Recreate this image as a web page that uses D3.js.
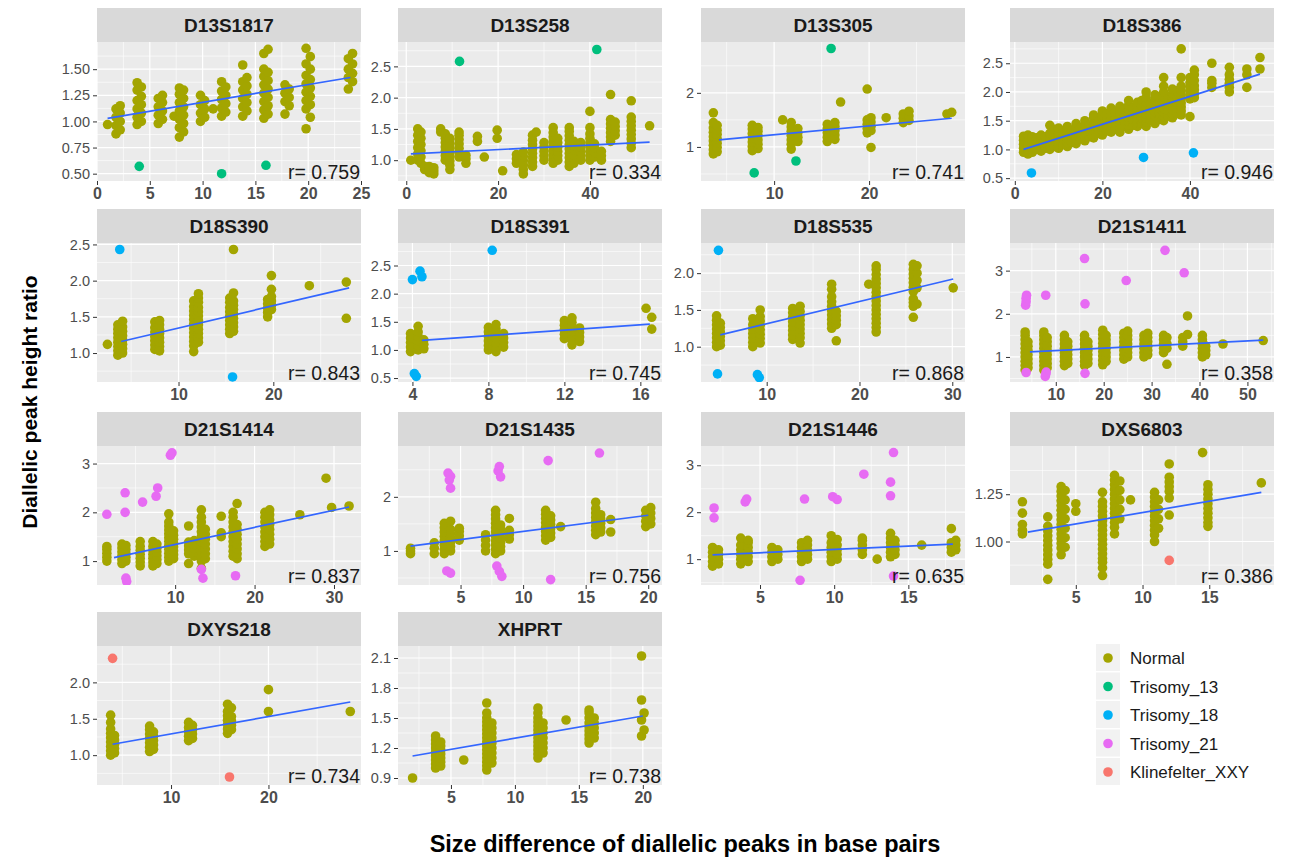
<!DOCTYPE html>
<html>
<head>
<meta charset="utf-8">
<script src="https://cdn.jsdelivr.net/npm/d3@7"></script>
<style>
  body { margin: 0; background: #fff; }
  text { font-family: "Liberation Sans", Arial, sans-serif; }
</style>
</head>
<body>
<div id="chart-area"></div>
<script>
// facet names, in facet_wrap order
const markers = ["D13S1817", "D13S258", "D13S305", "D18S386",
                 "D18S390", "D18S391", "D18S535", "D21S1411",
                 "D21S1414", "D21S1435", "D21S1446", "DXS6803",
                 "DXYS218", "XHPRT"];

const rValues = ["0.759", "0.334", "0.741", "0.946", "0.843", "0.745", "0.868",
                 "0.358", "0.837", "0.756", "0.635", "0.386", "0.734", "0.738"];

// axis limits per facet (free scales)
const xLimits = [[0, 25], [-1.8, 55.7], [2.3, 30.1], [-1.1, 59.2],
                 [1.4, 29.25], [3.24, 17.14], [2.92, 31.37], [0.44, 55.55],
                 [0.16, 33.4], [0, 21.1], [1.02, 18.82], [0.07, 19.85],
                 [2.4, 29.5], [0.86, 21.5]];
const yLimits = [[0.43, 1.76], [0.667, 2.89], [0.37, 2.94], [0.45, 2.87],
                 [0.6, 2.52], [0.43, 2.9], [0.52, 2.41], [0.42, 3.64],
                 [0.51, 3.36], [0.37, 2.94], [0.45, 3.41], [0.77, 1.505],
                 [0.59, 2.5], [0.83, 2.22]];

// tick labels
const xTicks = [["0", "5", "10", "15", "20", "25"], ["0", "20", "40"], ["10", "20"],
                ["0", "20", "40"], ["10", "20"], ["4", "8", "12", "16"], ["10", "20", "30"],
                ["10", "20", "30", "40", "50"], ["10", "20", "30"], ["5", "10", "15", "20"],
                ["5", "10", "15"], ["5", "10", "15"], ["10", "20"], ["5", "10", "15", "20"]];
const yTicks = [["0.50", "0.75", "1.00", "1.25", "1.50"], ["1.0", "1.5", "2.0", "2.5"], ["1", "2"],
                ["0.5", "1.0", "1.5", "2.0", "2.5"], ["1.0", "1.5", "2.0", "2.5"],
                ["0.5", "1.0", "1.5", "2.0", "2.5"], ["1.0", "1.5", "2.0"], ["1", "2", "3"],
                ["1", "2", "3"], ["1", "2"], ["1", "2", "3"], ["1.00", "1.25"],
                ["1.0", "1.5", "2.0"], ["0.9", "1.2", "1.5", "1.8", "2.1"]];

// lm fit of the Normal samples: [x1, y1, x2, y2]
const fitLines = [[1, 1.03, 24, 1.42], [1, 1.1, 53, 1.29], [4.2, 1.13, 28.7, 1.53], [2, 1.0, 56, 2.31],
                  [3.95, 1.16, 28, 1.9], [4.5, 1.17, 16.5, 1.46], [5, 1.16, 30.1, 1.92], [4.6, 1.12, 53.3, 1.39],
                  [2.3, 1.07, 31.9, 2.11], [1, 1.09, 20, 1.66], [1.8, 1.09, 18, 1.32], [1.4, 1.05, 18.9, 1.26],
                  [4, 1.15, 28.4, 1.73], [2, 1.12, 20, 1.52]];

// Normal samples: each entry is [x, y, y, y ...]
const normalD13S1817 = [
  [1, 0.97], [1.8, 0.88, 0.96, 1.04, 1.12], [2.2, 0.92, 1.0, 1.08, 1.15],
  [3.8, 0.97, 1.04, 1.12, 1.2, 1.3, 1.37], [4.2, 1.0, 1.08, 1.16, 1.24, 1.33],
  [5.8, 0.98, 1.06, 1.14, 1.22], [6.2, 1.02, 1.1, 1.18, 1.25], [7.3, 1.05],
  [7.8, 0.85, 0.94, 1.02, 1.1, 1.18, 1.26, 1.32], [8.2, 0.9, 0.98, 1.06, 1.14, 1.22, 1.3],
  [9.8, 1.0, 1.08, 1.16, 1.25], [10.2, 1.04, 1.12, 1.2], [11, 1.12],
  [11.8, 1.05, 1.13, 1.21, 1.29, 1.38], [12.2, 1.09, 1.17, 1.25, 1.33],
  [13.8, 1.05, 1.14, 1.22, 1.3, 1.38, 1.54], [14.2, 1.1, 1.18, 1.26, 1.34, 1.42],
  [15.8, 1.03, 1.11, 1.19, 1.27, 1.35, 1.43, 1.5, 1.65], [16.2, 1.07, 1.15, 1.23, 1.31, 1.39, 1.47, 1.69],
  [17.8, 1.07, 1.19, 1.27, 1.35], [18.2, 1.15, 1.23, 1.31],
  [19.8, 0.93, 1.12, 1.2, 1.28, 1.36, 1.44, 1.55, 1.7], [20.2, 1.04, 1.16, 1.24, 1.32, 1.4, 1.5, 1.62],
  [23.8, 1.31, 1.42, 1.5, 1.6], [24.2, 1.38, 1.46, 1.55, 1.65]
];
const normalD13S258 = [
  [1, 1.0], [2.5, 1.0, 1.1, 1.2, 1.3, 1.4, 1.5], [3.2, 0.95, 1.05, 1.15, 1.25, 1.35, 1.45],
  [4, 0.85, 0.9], [5, 0.8, 0.85, 0.9], [6, 0.78, 0.83, 0.88], [7.5, 1.45, 1.5],
  [8.5, 1.0, 1.07, 1.14, 1.21, 1.28, 1.35, 1.42], [9.5, 0.85, 0.92, 0.99, 1.06, 1.13, 1.2, 1.27, 1.35],
  [11.5, 1.05, 1.12, 1.19, 1.26, 1.33, 1.4, 1.45], [13, 0.95, 1.02, 1.08], [15.5, 1.3, 1.38],
  [17, 1.05], [19.8, 1.35, 1.48], [21, 0.83], [24, 0.95, 1.02, 1.09],
  [25.5, 0.78, 0.85, 0.92, 0.99, 1.06, 1.13], [27.5, 0.9, 0.97, 1.04, 1.11, 1.18, 1.25, 1.32, 1.4],
  [28.3, 1.45], [30, 1.0, 1.07, 1.14, 1.21, 1.28],
  [32, 0.95, 1.02, 1.09, 1.16, 1.23, 1.3, 1.37, 1.44, 1.52], [33, 1.0, 1.07, 1.14, 1.21, 1.28, 1.35],
  [35.5, 0.9, 0.97, 1.04, 1.11, 1.18, 1.25, 1.32, 1.39, 1.46, 1.52], [36.5, 0.95, 1.02, 1.09, 1.16, 1.23, 1.3],
  [38, 1.0, 1.07, 1.14, 1.21, 1.28], [40, 1.0, 1.07, 1.14, 1.21, 1.28, 1.35, 1.42, 1.52, 1.78],
  [41, 1.05, 1.12, 1.19, 1.26], [42.5, 1.0, 1.07, 1.14],
  [44.5, 1.3, 1.37, 1.44, 1.51, 1.58, 1.65, 2.05], [45.5, 1.4, 1.47, 1.54, 1.61],
  [49, 1.2, 1.27, 1.34, 1.41, 1.48, 1.55, 1.62, 1.69, 1.95], [53, 1.55]
];
const normalD13S305 = [
  [3.6, 0.87, 0.95, 1.03, 1.11, 1.19, 1.27, 1.35, 1.45, 1.63], [4.0, 0.91, 0.99, 1.07, 1.15, 1.23, 1.31, 1.4],
  [7.7, 0.93, 1.01, 1.09, 1.17, 1.25, 1.33, 1.4], [8.3, 0.97, 1.05, 1.13, 1.21, 1.29, 1.36],
  [10.9, 1.5], [11.8, 0.96, 1.05, 1.13, 1.21, 1.29, 1.37, 1.45], [12.5, 1.1, 1.18, 1.26, 1.34],
  [15.6, 1.1, 1.18, 1.26, 1.34, 1.42], [16.4, 1.14, 1.22, 1.3, 1.38, 1.45], [17, 1.83],
  [19.8, 1.26, 1.34, 1.42, 1.5, 2.07], [20.2, 0.99, 1.3, 1.38, 1.46, 1.54], [21.8, 1.54],
  [23.6, 1.45, 1.53, 1.61], [24.2, 1.49, 1.57, 1.66], [28.2, 1.61], [28.7, 1.64]
];
const normalD18S386 = [
  [2, 0.95, 1.02, 1.09, 1.16, 1.23], [3, 0.92, 1.0, 1.08, 1.15, 1.25], [4, 0.95, 1.02, 1.09, 1.16, 1.22],
  [5, 1.0, 1.1, 1.2], [6, 0.97, 1.04, 1.11, 1.18, 1.25], [7, 1.02, 1.12, 1.22],
  [8, 1.0, 1.07, 1.14, 1.21, 1.28, 1.42], [9, 1.05, 1.15, 1.25, 1.35], [10, 1.02, 1.09, 1.16, 1.23, 1.3, 1.37],
  [11, 1.08, 1.18, 1.28], [12, 1.05, 1.12, 1.19, 1.26, 1.33, 1.4], [13, 1.12, 1.22, 1.32],
  [14, 1.1, 1.17, 1.24, 1.31, 1.38, 1.45], [15, 1.18, 1.28, 1.38], [16, 1.15, 1.22, 1.29, 1.36, 1.43, 1.5],
  [17, 1.22, 1.32, 1.42], [18, 1.2, 1.27, 1.34, 1.41, 1.48, 1.55, 1.6], [19, 1.28, 1.38, 1.48],
  [20, 1.25, 1.32, 1.39, 1.46, 1.53, 1.6, 1.67], [21, 1.32, 1.42, 1.52, 1.62],
  [22, 1.3, 1.37, 1.44, 1.51, 1.58, 1.65, 1.72], [23, 1.35, 1.45, 1.55, 1.65],
  [24, 1.3, 1.37, 1.44, 1.51, 1.58, 1.65, 1.75], [25, 1.4, 1.5, 1.6, 1.7],
  [26, 1.35, 1.42, 1.49, 1.56, 1.63, 1.7, 1.77, 1.85], [27, 1.42, 1.52, 1.62, 1.72],
  [28, 1.4, 1.47, 1.54, 1.61, 1.68, 1.75, 1.82], [29, 1.45, 1.55, 1.65, 1.75, 1.85],
  [30, 1.4, 1.47, 1.54, 1.61, 1.68, 1.75, 1.82, 1.9, 2.0], [31, 1.5, 1.6, 1.7, 1.8],
  [32, 1.45, 1.52, 1.59, 1.66, 1.73, 1.8, 1.87, 1.95], [33, 1.52, 1.62, 1.72, 1.82, 1.92],
  [34, 1.5, 1.57, 1.64, 1.71, 1.78, 1.85, 1.92, 2.0, 2.1, 2.25], [35, 1.58, 1.68, 1.78, 1.88],
  [36, 1.55, 1.62, 1.69, 1.76, 1.83, 1.9, 1.97, 2.05], [37, 1.62, 1.72, 1.82, 1.92, 2.02],
  [38, 1.6, 1.67, 1.74, 1.81, 1.88, 1.95, 2.02, 2.1, 2.25, 2.75],
  [40, 1.57, 1.88, 1.95, 2.02, 2.09, 2.16, 2.25], [41, 1.9, 1.97, 2.04, 2.11, 2.2, 2.3, 2.38],
  [45, 2.08, 2.15, 2.2, 2.5], [49, 2.0, 2.08, 2.15, 2.22, 2.3, 2.43], [53, 2.08, 2.3, 2.4], [56, 2.4, 2.6]
];
const normalD18S390 = [
  [2.5, 1.12], [3.6, 0.97, 1.03, 1.09, 1.15, 1.21, 1.27, 1.33, 1.39], [4.1, 1.0, 1.06, 1.12, 1.18, 1.24, 1.3, 1.36, 1.44],
  [7.5, 1.05, 1.11, 1.17, 1.23, 1.29, 1.35, 1.43], [8.0, 1.03, 1.09, 1.15, 1.21, 1.27, 1.33, 1.39, 1.45],
  [11.6, 1.02, 1.1, 1.16, 1.22, 1.28, 1.34, 1.4, 1.46, 1.52, 1.58, 1.64, 1.72],
  [12.1, 1.15, 1.21, 1.27, 1.33, 1.39, 1.45, 1.51, 1.57, 1.63, 1.7, 1.76, 1.82],
  [15.4, 1.27, 1.33, 1.39, 1.45, 1.51, 1.57, 1.63, 1.7, 1.76],
  [15.8, 1.3, 1.36, 1.42, 1.48, 1.54, 1.6, 1.66, 1.72, 1.83, 2.43],
  [19.4, 1.5, 1.56, 1.62, 1.68, 1.74], [19.8, 1.6, 1.66, 1.72, 1.78, 1.88, 2.07],
  [23.8, 1.93], [27.7, 1.98, 1.48]
];
const normalD18S391 = [
  [3.9, 0.97, 1.05, 1.13, 1.21, 1.29], [4.3, 1.0, 1.08, 1.16, 1.24, 1.32, 1.42], [4.6, 1.02, 1.1, 1.18],
  [8.0, 1.0, 1.08, 1.16, 1.24, 1.32, 1.4], [8.4, 0.97, 1.05, 1.13, 1.21, 1.29, 1.37, 1.45], [8.8, 1.05, 1.13, 1.21, 1.29],
  [12.0, 1.2, 1.28, 1.36, 1.44, 1.52], [12.4, 1.09, 1.17, 1.25, 1.33, 1.41, 1.49, 1.57], [12.8, 1.15, 1.23, 1.31, 1.39],
  [16.3, 1.74], [16.6, 1.58, 1.37]
];
const normalD18S535 = [
  [4.6, 1.0, 1.06, 1.12, 1.18, 1.24, 1.3, 1.36, 1.42], [5.0, 1.02, 1.08, 1.14, 1.2, 1.26, 1.32],
  [8.5, 1.0, 1.06, 1.12, 1.18, 1.24, 1.3, 1.38], [9.3, 1.05, 1.11, 1.17, 1.23, 1.29, 1.35, 1.41, 1.5],
  [12.8, 1.1, 1.16, 1.22, 1.28, 1.34, 1.4, 1.46, 1.52], [13.6, 1.05, 1.12, 1.18, 1.24, 1.3, 1.36, 1.42, 1.48, 1.55],
  [17.0, 1.25, 1.31, 1.37, 1.43, 1.49, 1.55, 1.61, 1.68, 1.78, 1.85], [17.5, 1.08, 1.3, 1.36, 1.42, 1.48],
  [21.0, 1.85], [21.8, 1.2, 1.26, 1.32, 1.38, 1.44, 1.5, 1.56, 1.62, 1.68, 1.74, 1.8, 1.86, 1.92, 1.98, 2.05, 2.1],
  [25.8, 1.4, 1.55, 1.6, 1.65, 1.75, 1.81, 1.87, 1.93, 1.99, 2.05, 2.12], [26.2, 1.58, 1.8, 1.9, 2.0, 2.1],
  [30.1, 1.8]
];
const normalD21S1411 = [
  [3.6, 0.7, 0.8, 0.9, 1.0, 1.1, 1.2, 1.3, 1.4, 1.5, 1.58], [4.2, 0.75, 0.85, 0.95, 1.05, 1.15, 1.25, 1.35],
  [7.5, 0.7, 0.8, 0.9, 1.0, 1.1, 1.2, 1.3, 1.4, 1.5, 1.58], [8.2, 0.75, 0.85, 0.95, 1.05, 1.15, 1.25, 1.35, 1.45],
  [11.8, 0.8, 0.9, 1.0, 1.1, 1.2, 1.3, 1.4, 1.5], [12.5, 0.85, 0.95, 1.05, 1.15, 1.25, 1.35],
  [16.0, 0.8, 0.9, 1.0, 1.1, 1.2, 1.3, 1.4, 1.5], [16.7, 0.85, 0.95, 1.05, 1.15, 1.25, 1.35],
  [19.8, 0.82, 0.92, 1.02, 1.12, 1.22, 1.32, 1.42, 1.52, 1.62], [20.5, 0.9, 1.0, 1.1, 1.2, 1.3, 1.4, 1.5],
  [24.2, 0.95, 1.05, 1.15, 1.25, 1.35, 1.45, 1.55], [25.0, 1.0, 1.1, 1.2, 1.3, 1.4, 1.5, 1.6],
  [28.4, 1.0, 1.1, 1.2, 1.3, 1.4, 1.5], [29.2, 1.05, 1.15, 1.25, 1.35, 1.45, 1.55],
  [32.5, 1.1, 1.2, 1.3, 1.4, 1.5], [33.2, 0.83, 1.2, 1.3, 1.45], [36.5, 1.25, 1.35, 1.45], [37.5, 1.95, 1.52],
  [40.6, 1.0, 1.1, 1.2, 1.3, 1.4, 1.5], [41.3, 1.05, 1.15, 1.25], [44.9, 1.3], [53.3, 1.38]
];
const normalD21S1414 = [
  [1.4, 1.0, 1.08, 1.16, 1.24, 1.3], [3.3, 0.95, 1.03, 1.11, 1.19, 1.27, 1.35], [3.8, 1.0, 1.08, 1.16, 1.24, 1.32],
  [5.6, 0.9, 0.98, 1.06, 1.14, 1.22, 1.3, 1.4], [7.2, 0.9, 0.98, 1.06, 1.14, 1.22, 1.3, 1.4],
  [7.7, 0.95, 1.03, 1.11, 1.19, 1.27, 1.35],
  [9.2, 1.0, 1.08, 1.16, 1.24, 1.32, 1.4, 1.48, 1.56, 1.64, 1.72, 1.8, 1.97], [9.8, 1.05, 1.13, 1.21, 1.29, 1.37, 1.45, 1.53, 1.62],
  [11.7, 0.95, 1.15, 1.23, 1.31, 1.39, 1.72], [12.4, 1.1, 1.18, 1.26, 1.34, 1.42],
  [13.3, 0.85, 1.0, 1.1, 1.2, 1.3, 1.4, 1.5, 1.6, 1.7, 1.8, 1.9, 2.05], [13.8, 1.05, 1.15, 1.25, 1.35, 1.45, 1.55, 1.65],
  [15.8, 1.5, 1.58, 1.92], [17.3, 1.1, 1.2, 1.3, 1.4, 1.5, 1.6, 1.7, 1.8, 1.9, 2.0],
  [17.8, 1.05, 1.15, 1.25, 1.35, 1.45, 1.55, 1.65, 1.75, 2.18],
  [21.3, 1.3, 1.4, 1.5, 1.6, 1.7, 1.8, 1.9, 2.0], [21.9, 1.35, 1.45, 1.55, 1.65, 1.75, 1.85, 1.95, 2.05],
  [25.7, 1.95], [29.0, 2.7], [29.7, 2.1], [31.9, 2.13]
];
const normalD21S1435 = [
  [1.0, 0.95, 1.0, 1.05], [2.9, 0.95, 1.05, 1.15], [3.7, 0.95, 1.03, 1.11, 1.19, 1.27, 1.35, 1.43, 1.51],
  [4.2, 1.0, 1.08, 1.16, 1.24, 1.32, 1.4, 1.55], [4.9, 1.2, 1.28, 1.36, 1.42], [7.0, 1.0, 1.1, 1.2, 1.3],
  [7.8, 0.95, 1.03, 1.11, 1.19, 1.27, 1.35, 1.43, 1.51, 1.59, 1.67, 1.75], [8.2, 1.0, 1.08, 1.16, 1.24, 1.32, 1.4, 1.48],
  [8.9, 1.22, 1.3, 1.38, 1.6], [11.8, 1.2, 1.28, 1.36, 1.44, 1.52, 1.6, 1.68, 1.75], [12.2, 1.25, 1.33, 1.41, 1.49, 1.57, 1.65],
  [13.0, 1.45], [15.8, 1.3, 1.38, 1.46, 1.54, 1.62, 1.7, 1.78, 1.9], [16.2, 1.35, 1.43, 1.51, 1.59, 1.67],
  [17.0, 1.35, 1.58], [19.8, 1.45, 1.55, 1.65, 1.75], [20.2, 1.5, 1.6, 1.7, 1.8]
];
const normalD21S1446 = [
  [1.8, 0.85, 0.95, 1.05, 1.15, 1.25], [2.2, 0.9, 1.0, 1.1, 1.2], [3.7, 0.9, 1.0, 1.1, 1.2, 1.3, 1.45],
  [4.2, 0.95, 1.05, 1.15, 1.25, 1.35, 1.4], [5.8, 0.95, 1.05, 1.15, 1.25], [6.2, 1.0, 1.1, 1.2],
  [7.8, 0.95, 1.05, 1.15, 1.25, 1.35], [8.2, 1.0, 1.1, 1.2, 1.3, 1.4], [9.8, 0.95, 1.05, 1.15, 1.25, 1.35, 1.5],
  [10.2, 1.0, 1.1, 1.2, 1.3, 1.42], [11.9, 1.1, 1.2, 1.3, 1.4, 1.45], [12.9, 1.0],
  [13.8, 1.05, 1.15, 1.25, 1.35, 1.45, 1.55], [14.1, 1.1, 1.2, 1.3, 1.4], [15.9, 1.3],
  [17.9, 1.15, 1.25, 1.35, 1.65], [18.2, 1.2, 1.3, 1.4]
];
const normalDXS6803 = [
  [1.0, 1.21, 1.15, 1.09, 1.06, 1.04],
  [2.9, 1.13, 1.08, 1.055, 1.03, 1.005, 0.98, 0.955, 0.93, 0.905, 0.88, 0.8],
  [3.9, 1.29, 1.265, 1.24, 1.215, 1.19, 1.165, 1.14, 1.115, 1.09, 1.065, 1.04, 1.015, 0.99, 0.965, 0.93],
  [4.2, 1.27, 1.22, 1.17, 1.12, 1.07, 1.02, 0.97], [5.0, 1.2, 1.16],
  [7.0, 1.26, 1.21, 1.185, 1.16, 1.135, 1.11, 1.085, 1.06, 1.035, 1.01, 0.985, 0.96, 0.935, 0.91, 0.89, 0.86, 0.82],
  [7.9, 1.35, 1.325, 1.3, 1.275, 1.25, 1.225, 1.2, 1.175, 1.15, 1.125, 1.1, 1.075, 1.04],
  [8.3, 1.32, 1.27, 1.22, 1.17, 1.12], [9.1, 1.22],
  [10.9, 1.26, 1.235, 1.21, 1.185, 1.16, 1.135, 1.11, 1.085, 1.06, 1.035, 1.0], [11.2, 1.22, 1.17, 1.12, 1.07],
  [12.0, 1.41, 1.34, 1.315, 1.29, 1.265, 1.23, 1.14], [14.5, 1.47],
  [14.9, 1.3, 1.275, 1.25, 1.225, 1.2, 1.175, 1.15, 1.125, 1.1, 1.08], [18.9, 1.31]
];
const normalDXYS218 = [
  [3.8, 1.0, 1.06, 1.12, 1.18, 1.24, 1.3, 1.36, 1.45, 1.55], [4.2, 1.03, 1.09, 1.15, 1.21, 1.27],
  [7.8, 1.05, 1.11, 1.17, 1.23, 1.29, 1.35, 1.4], [8.2, 1.08, 1.14, 1.2, 1.26, 1.32],
  [11.8, 1.2, 1.26, 1.32, 1.38, 1.45], [12.2, 1.23, 1.29, 1.35, 1.41],
  [15.8, 1.3, 1.36, 1.42, 1.48, 1.54, 1.6, 1.7], [16.2, 1.35, 1.41, 1.47, 1.53, 1.65],
  [20, 1.6, 1.9], [28.4, 1.6]
];
const normalXHPRT = [
  [2, 0.9], [3.8, 1.0, 1.04, 1.08, 1.12, 1.16, 1.2, 1.24, 1.28, 1.32], [4.2, 1.02, 1.06, 1.1, 1.14, 1.18, 1.22, 1.26],
  [6, 1.08], [7.8, 0.98, 1.02, 1.06, 1.1, 1.14, 1.18, 1.22, 1.26, 1.3, 1.34, 1.38, 1.42, 1.46, 1.5, 1.55, 1.65],
  [8.2, 1.05, 1.1, 1.15, 1.2, 1.25, 1.3, 1.35, 1.4, 1.45],
  [11.8, 1.1, 1.14, 1.18, 1.22, 1.26, 1.3, 1.34, 1.38, 1.42, 1.46, 1.5, 1.55, 1.6], [12.2, 1.15, 1.2, 1.25, 1.3, 1.35, 1.4, 1.45],
  [14, 1.48], [15.8, 1.25, 1.29, 1.33, 1.37, 1.41, 1.45, 1.5, 1.55, 1.58], [16.2, 1.3, 1.35, 1.4, 1.45, 1.5],
  [19.9, 1.32, 1.48, 1.68, 2.12], [20.1, 1.38, 1.55]
];
const normalData = [normalD13S1817, normalD13S258, normalD13S305, normalD18S386, normalD18S390,
                    normalD18S391, normalD18S535, normalD21S1411, normalD21S1414, normalD21S1435,
                    normalD21S1446, normalDXS6803, normalDXYS218, normalXHPRT];

// aneuploid samples: [marker, group, x, y]
const abnormal = [
  ["D13S1817", "Trisomy_13", 4, 0.57], ["D13S1817", "Trisomy_13", 11.8, 0.5], ["D13S1817", "Trisomy_13", 16, 0.58],
  ["D13S258", "Trisomy_13", 11.6, 2.58], ["D13S258", "Trisomy_13", 41.5, 2.77],
  ["D13S305", "Trisomy_13", 16, 2.82], ["D13S305", "Trisomy_13", 7.9, 0.52], ["D13S305", "Trisomy_13", 12.3, 0.74],
  ["D18S386", "Trisomy_18", 3.8, 0.59], ["D18S386", "Trisomy_18", 29.4, 0.86], ["D18S386", "Trisomy_18", 40.8, 0.94],
  ["D18S390", "Trisomy_18", 3.8, 2.43], ["D18S390", "Trisomy_18", 15.7, 0.67],
  ["D18S391", "Trisomy_18", 4.0, 2.25], ["D18S391", "Trisomy_18", 4.4, 2.4], ["D18S391", "Trisomy_18", 4.5, 2.3],
  ["D18S391", "Trisomy_18", 8.2, 2.77], ["D18S391", "Trisomy_18", 4.1, 0.58], ["D18S391", "Trisomy_18", 4.2, 0.53],
  ["D18S535", "Trisomy_18", 4.8, 2.31], ["D18S535", "Trisomy_18", 4.7, 0.63], ["D18S535", "Trisomy_18", 9.0, 0.62],
  ["D18S535", "Trisomy_18", 9.2, 0.58],
  ["D21S1411", "Trisomy_21", 3.7, 2.2], ["D21S1411", "Trisomy_21", 3.8, 2.28], ["D21S1411", "Trisomy_21", 3.8, 2.36],
  ["D21S1411", "Trisomy_21", 3.9, 2.43], ["D21S1411", "Trisomy_21", 3.8, 0.64], ["D21S1411", "Trisomy_21", 7.9, 2.43],
  ["D21S1411", "Trisomy_21", 7.8, 0.55], ["D21S1411", "Trisomy_21", 7.9, 0.6], ["D21S1411", "Trisomy_21", 8.0, 0.65],
  ["D21S1411", "Trisomy_21", 16.0, 3.28], ["D21S1411", "Trisomy_21", 16.1, 2.23], ["D21S1411", "Trisomy_21", 16.1, 0.62],
  ["D21S1411", "Trisomy_21", 24.7, 2.77], ["D21S1411", "Trisomy_21", 32.8, 3.47], ["D21S1411", "Trisomy_21", 36.8, 2.95],
  ["D21S1414", "Trisomy_21", 1.4, 1.96], ["D21S1414", "Trisomy_21", 3.7, 2.4], ["D21S1414", "Trisomy_21", 3.7, 2.0],
  ["D21S1414", "Trisomy_21", 3.8, 0.65], ["D21S1414", "Trisomy_21", 3.9, 0.58], ["D21S1414", "Trisomy_21", 5.9, 2.21],
  ["D21S1414", "Trisomy_21", 7.6, 2.33], ["D21S1414", "Trisomy_21", 7.8, 2.5], ["D21S1414", "Trisomy_21", 9.4, 3.17],
  ["D21S1414", "Trisomy_21", 9.6, 3.22], ["D21S1414", "Trisomy_21", 13.3, 0.83], ["D21S1414", "Trisomy_21", 13.5, 0.65],
  ["D21S1414", "Trisomy_21", 17.6, 0.7],
  ["D21S1435", "Trisomy_21", 4.0, 2.44], ["D21S1435", "Trisomy_21", 4.2, 2.38], ["D21S1435", "Trisomy_21", 4.1, 2.31],
  ["D21S1435", "Trisomy_21", 4.2, 2.16], ["D21S1435", "Trisomy_21", 3.9, 0.63], ["D21S1435", "Trisomy_21", 4.2, 0.59],
  ["D21S1435", "Trisomy_21", 8.1, 2.56], ["D21S1435", "Trisomy_21", 8.0, 2.48], ["D21S1435", "Trisomy_21", 8.2, 2.37],
  ["D21S1435", "Trisomy_21", 7.9, 0.72], ["D21S1435", "Trisomy_21", 8.1, 0.62], ["D21S1435", "Trisomy_21", 8.3, 0.53],
  ["D21S1435", "Trisomy_21", 12.0, 2.67], ["D21S1435", "Trisomy_21", 12.2, 0.47], ["D21S1435", "Trisomy_21", 16.1, 2.81],
  ["D21S1446", "Trisomy_21", 1.9, 2.09], ["D21S1446", "Trisomy_21", 1.9, 1.88], ["D21S1446", "Trisomy_21", 4.0, 2.22],
  ["D21S1446", "Trisomy_21", 4.1, 2.28], ["D21S1446", "Trisomy_21", 8.0, 2.28], ["D21S1446", "Trisomy_21", 7.7, 0.55],
  ["D21S1446", "Trisomy_21", 9.9, 2.33], ["D21S1446", "Trisomy_21", 10.2, 2.27], ["D21S1446", "Trisomy_21", 12.0, 2.81],
  ["D21S1446", "Trisomy_21", 14.0, 3.27], ["D21S1446", "Trisomy_21", 13.8, 2.64], ["D21S1446", "Trisomy_21", 13.8, 2.35],
  ["D21S1446", "Trisomy_21", 14.0, 0.64],
  ["DXS6803", "Klinefelter_XXY", 12.0, 0.9],
  ["DXYS218", "Klinefelter_XXY", 4, 2.33], ["DXYS218", "Klinefelter_XXY", 16, 0.7]
];

const groups = ["Normal", "Trisomy_13", "Trisomy_18", "Trisomy_21", "Klinefelter_XXY"];
const groupColors = ["#A3A500", "#00BF7D", "#00B0F6", "#E76BF3", "#F8766D"];
const color = d3.scaleOrdinal().domain(groups).range(groupColors);

// layout
const W = 1292, H = 857;
const colLeft = [97, 398, 701, 1010], rowTop = [8, 209, 412, 612];
const panelW = 264, stripH = 34, plotH = 139;
const dotR = 4.8;

const svg = d3.select("#chart-area")
  .append("svg")
    .attr("width", W)
    .attr("height", H);

// minor breaks halfway between majors, like ggplot
const minorBreaks = (majors, lim) => {
  const step = majors[1] - majors[0];
  const out = [majors[0] - step / 2].concat(majors.map(v => v + step / 2));
  return out.filter(v => v > lim[0] && v < lim[1]);
};

markers.forEach((name, i) => {
  const col = i % 4, row = Math.floor(i / 4);
  const g = svg.append("g")
    .attr("transform", "translate(" + colLeft[col] + ", " + rowTop[row] + ")");

  // strip
  g.append("rect")
    .attr("width", panelW).attr("height", stripH)
    .attr("fill", "#D9D9D9");
  g.append("text")
    .attr("x", panelW / 2).attr("y", stripH / 2 + 7)
    .attr("text-anchor", "middle")
    .attr("font-size", "19px").attr("font-weight", "bold")
    .attr("fill", "#1A1A1A")
    .text(name);

  const p = g.append("g").attr("transform", "translate(0, " + stripH + ")");
  p.append("rect")
    .attr("width", panelW).attr("height", plotH)
    .attr("fill", "#EBEBEB");

  const x = d3.scaleLinear().domain(xLimits[i]).range([0, panelW]);
  const y = d3.scaleLinear().domain(yLimits[i]).range([plotH, 0]);
  const xMaj = xTicks[i].map(Number), yMaj = yTicks[i].map(Number);

  // grid
  p.selectAll(".xmin").data(minorBreaks(xMaj, xLimits[i])).enter().append("line")
    .attr("x1", d => x(d)).attr("x2", d => x(d)).attr("y1", 0).attr("y2", plotH)
    .attr("stroke", "#fff").attr("stroke-width", 0.6);
  p.selectAll(".ymin").data(minorBreaks(yMaj, yLimits[i])).enter().append("line")
    .attr("y1", d => y(d)).attr("y2", d => y(d)).attr("x1", 0).attr("x2", panelW)
    .attr("stroke", "#fff").attr("stroke-width", 0.6);
  p.selectAll(".xmaj").data(xMaj).enter().append("line")
    .attr("x1", d => x(d)).attr("x2", d => x(d)).attr("y1", 0).attr("y2", plotH)
    .attr("stroke", "#fff").attr("stroke-width", 1.2);
  p.selectAll(".ymaj").data(yMaj).enter().append("line")
    .attr("y1", d => y(d)).attr("y2", d => y(d)).attr("x1", 0).attr("x2", panelW)
    .attr("stroke", "#fff").attr("stroke-width", 1.2);

  // points
  const pts = [];
  normalData[i].forEach(s => s.slice(1).forEach(v => pts.push({ x: s[0], y: v, group: "Normal" })));
  abnormal.filter(a => a[0] === name).forEach(a => pts.push({ x: a[2], y: a[3], group: a[1] }));

  const clip = "clip" + i;
  p.append("clipPath").attr("id", clip)
    .append("rect").attr("width", panelW).attr("height", plotH);

  p.append("g").attr("clip-path", "url(#" + clip + ")")
    .selectAll("circle").data(pts).enter().append("circle")
      .attr("cx", d => x(d.x))
      .attr("cy", d => y(d.y))
      .attr("r", dotR)
      .attr("fill", d => color(d.group));

  // lm line
  const f = fitLines[i];
  p.append("line")
    .attr("x1", x(f[0])).attr("y1", y(f[1]))
    .attr("x2", x(f[2])).attr("y2", y(f[3]))
    .attr("stroke", "#3366FF").attr("stroke-width", 1.7);

  p.append("text")
    .attr("x", panelW - 1).attr("y", plotH - 2)
    .attr("text-anchor", "end")
    .attr("font-size", "19.5px")
    .attr("fill", "#1A1A1A")
    .text("r= " + rValues[i]);

  // axes
  const xAxis = p.append("g")
    .attr("transform", "translate(0, " + plotH + ")")
    .call(d3.axisBottom(x).tickValues(xMaj).tickSize(4).tickPadding(3)
      .tickFormat((d, k) => xTicks[i][k]));
  const yAxis = p.append("g")
    .call(d3.axisLeft(y).tickValues(yMaj).tickSize(4).tickPadding(3)
      .tickFormat((d, k) => yTicks[i][k]));
  [xAxis, yAxis].forEach(a => {
    a.select(".domain").remove();
    a.selectAll(".tick line").attr("stroke", "#333").attr("stroke-width", 1);
    a.selectAll(".tick text")
      .attr("fill", "#4D4D4D")
      .style("font-family", "'Liberation Sans', Arial, sans-serif");
  });
  xAxis.selectAll(".tick text").attr("font-size", "16px").attr("font-weight", "bold");
  yAxis.selectAll(".tick text").attr("font-size", "14.5px");
});

// axis titles
svg.append("text")
  .attr("x", 685).attr("y", 852)
  .attr("text-anchor", "middle")
  .attr("font-size", "23.5px").attr("font-weight", "bold")
  .text("Size difference of diallelic peaks in base pairs");

svg.append("text")
  .attr("transform", "translate(37, 402) rotate(-90)")
  .attr("text-anchor", "middle")
  .attr("font-size", "21px").attr("font-weight", "bold")
  .text("Diallelic peak height ratio");

// legend
const legend = svg.append("g").attr("transform", "translate(1096, 644)");
groups.forEach((gname, k) => {
  const row = legend.append("g").attr("transform", "translate(0, " + (k * 28.5) + ")");
  row.append("rect")
    .attr("width", 24).attr("height", 27)
    .attr("fill", "#F2F2F2");
  row.append("circle")
    .attr("cx", 12).attr("cy", 14)
    .attr("r", dotR)
    .attr("fill", color(gname));
  row.append("text")
    .attr("x", 34).attr("y", 20)
    .attr("font-size", "17px")
    .attr("fill", "#1A1A1A")
    .text(gname);
});
</script>
</body>
</html>
